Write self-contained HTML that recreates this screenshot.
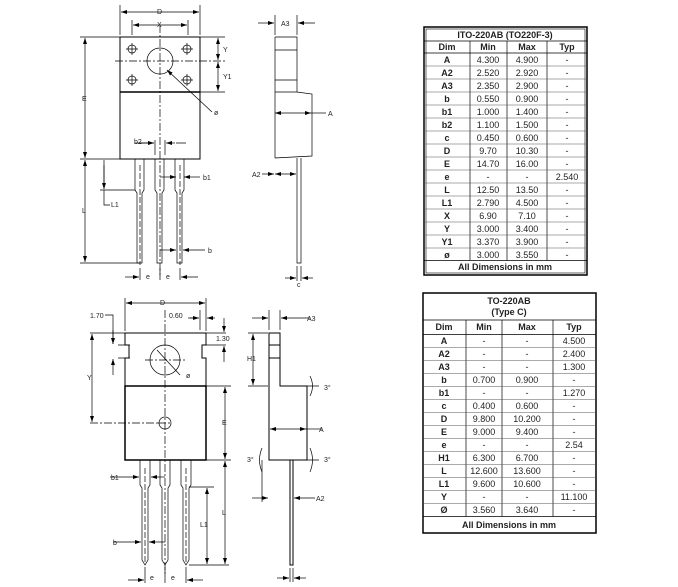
<!DOCTYPE html>
<html><head><meta charset="utf-8"><style>
html,body{margin:0;padding:0;background:#fff;width:678px;height:587px;overflow:hidden}
svg{position:absolute;left:0;top:0}
text{font-family:"Liberation Sans",sans-serif;font-size:7px;fill:#222}
.t text{font-size:9px}
.b{font-weight:bold}
</style></head><body>
<svg width="678" height="587" viewBox="0 0 678 587">
<defs><marker id="a" markerWidth="6" markerHeight="4" refX="6" refY="2" orient="auto-start-reverse" markerUnits="userSpaceOnUse"><path d="M0,0L6,2L0,4z" fill="#000"/></marker></defs>
<g stroke="#000" stroke-width="0.7" fill="none">
<rect x="120" y="37" width="80" height="122" stroke-width="1"/>
<line x1="120" y1="92" x2="200" y2="92" stroke-width="1.5"/>
<circle cx="160" cy="61" r="13"/>
<circle cx="132" cy="49" r="4"/><circle cx="187" cy="49" r="4"/><circle cx="132" cy="80" r="4"/><circle cx="187" cy="80" r="4"/>
<path d="M126 49h12M132 43v12M181 49h12M187 43v12M126 80h12M132 74v12M181 80h12M187 74v12"/>
<path d="M115 61h110M160 25v250" stroke-dasharray="8 2 2 2"/>
<path d="M135 159v31l2 3v70h5v-70l2-3v-31M155 159v31l2 3v70h5v-70l2-3v-31M175 159v31l2 3v70h5v-70l2-3v-31"/>
<path d="M140 165v100M180 165v100" stroke-dasharray="6 2"/>
<path d="M120 5v30M200 5v30M132 20v15M188 20v15M80 37h40M80 159h55M200 37h25M200 92h25M100 190h35M80 263h60"/>
<line x1="121" y1="12" x2="199" y2="12" marker-start="url(#a)" marker-end="url(#a)"/>
<line x1="133" y1="25" x2="187" y2="25" marker-start="url(#a)" marker-end="url(#a)"/>
<line x1="85" y1="38" x2="85" y2="158" marker-start="url(#a)" marker-end="url(#a)"/>
<line x1="85" y1="160" x2="85" y2="262" marker-start="url(#a)" marker-end="url(#a)"/>
<line x1="218" y1="38" x2="218" y2="60" marker-start="url(#a)" marker-end="url(#a)"/>
<line x1="218" y1="62" x2="218" y2="91" marker-start="url(#a)" marker-end="url(#a)"/>
<path d="M104 160v29M104 190v15h6"/><line x1="104" y1="165" x2="104" y2="189" marker-end="url(#a)"/>
<line x1="167" y1="70" x2="212" y2="112" marker-start="url(#a)"/>
<path d="M155 140v15M165 140v15M135 143h19M176 143h10"/><line x1="140" y1="143" x2="154" y2="143" marker-end="url(#a)"/><line x1="175" y1="143" x2="166" y2="143" marker-end="url(#a)"/>
<line x1="200" y1="177" x2="184" y2="177" marker-end="url(#a)"/><line x1="160" y1="177" x2="176" y2="177" marker-end="url(#a)"/>
<line x1="205" y1="250" x2="183" y2="250" marker-end="url(#a)"/><line x1="160" y1="250" x2="176" y2="250" marker-end="url(#a)"/>
<path d="M140 268v12M160 268v12M180 268v12"/>
<line x1="125" y1="277" x2="139" y2="277" marker-end="url(#a)"/><line x1="198" y1="277" x2="181" y2="277" marker-end="url(#a)"/>
<path d="M275 37h22v55M275 37v121M275 50h22M275 80h22M275 92h22l15 2v62l-37 2M297 158v105h4V158"/>
<path d="M275 15v20M297 15v20"/>
<line x1="258" y1="23" x2="274" y2="23" marker-end="url(#a)"/><line x1="315" y1="23" x2="298" y2="23" marker-end="url(#a)"/>
<line x1="275" y1="113" x2="311" y2="113" marker-start="url(#a)" marker-end="url(#a)"/><path d="M311 113h15"/>
<line x1="262" y1="174" x2="274" y2="174" marker-end="url(#a)"/><line x1="275" y1="174" x2="296" y2="174" marker-start="url(#a)" marker-end="url(#a)"/>
<path d="M297 266v15M301 266v15"/>
<line x1="285" y1="278" x2="296" y2="278" marker-end="url(#a)"/><line x1="313" y1="278" x2="302" y2="278" marker-end="url(#a)"/>
<path d="M125 333h81v12h-4v13h4v28H125v-28h4v-13h-4z" stroke-width="1"/>
<rect x="125" y="386" width="81" height="74" stroke-width="1.5"/>
<circle cx="165" cy="360" r="15"/><circle cx="165" cy="423" r="6"/>
<path d="M145 360h40M90 423h70M158 423h14M165 310v265" stroke-dasharray="8 2 2 2"/>
<line x1="157" y1="350" x2="180" y2="375"/>
<path d="M140 460v25l2 3v72l3 5 3-5v-72l2-3v-25M160 460v25l2 3v72l3 5 3-5v-72l2-3v-25M181 460v25l2 3v72l3 5 3-5v-72l2-3v-25"/>
<path d="M145 468v95M186 468v95" stroke-dasharray="6 2"/>
<path d="M125 298v33M206 298v33M200 310v20M90 333h35M206 333h20M206 345h20M206 386h25M206 460h25M189 487h25M189 565h40M118 345h12M118 358h12"/>
<line x1="126" y1="303" x2="205" y2="303" marker-start="url(#a)" marker-end="url(#a)"/>
<line x1="92" y1="334" x2="92" y2="422" marker-start="url(#a)" marker-end="url(#a)"/>
<line x1="225" y1="387" x2="225" y2="459" marker-start="url(#a)" marker-end="url(#a)"/>
<line x1="225" y1="461" x2="225" y2="564" marker-start="url(#a)" marker-end="url(#a)"/>
<line x1="207" y1="488" x2="207" y2="564" marker-start="url(#a)" marker-end="url(#a)"/>
<path d="M105 315h8v29"/><line x1="113" y1="330" x2="113" y2="344" marker-end="url(#a)"/><line x1="113" y1="375" x2="113" y2="359" marker-end="url(#a)"/>
<path d="M188 318h10"/><line x1="190" y1="318" x2="199" y2="318" marker-end="url(#a)"/><line x1="215" y1="318" x2="207" y2="318" marker-end="url(#a)"/>
<line x1="224" y1="318" x2="224" y2="332" marker-end="url(#a)"/><line x1="224" y1="362" x2="224" y2="346" marker-end="url(#a)"/>
<line x1="110" y1="477" x2="139" y2="477" marker-end="url(#a)"/><line x1="165" y1="477" x2="151" y2="477" marker-end="url(#a)"/>
<line x1="113" y1="542" x2="141" y2="542" marker-end="url(#a)"/><line x1="165" y1="542" x2="149" y2="542" marker-end="url(#a)"/>
<path d="M145 567v16M165 567v16M186 567v16"/>
<line x1="128" y1="580" x2="144" y2="580" marker-end="url(#a)"/><line x1="203" y1="580" x2="187" y2="580" marker-end="url(#a)"/>
<path d="M269 333h11v53h27v74h-38zM269 345h11M269 358h11M290 460v105h3V460" stroke-width="1"/>
<path d="M269 310v20M280 310v20M248 333h20M248 386h20M262 460v42M307 386h12M307 460h12"/>
<line x1="252" y1="318" x2="268" y2="318" marker-end="url(#a)"/><line x1="310" y1="318" x2="281" y2="318" marker-end="url(#a)"/>
<line x1="253" y1="334" x2="253" y2="385" marker-start="url(#a)" marker-end="url(#a)"/>
<line x1="270" y1="429" x2="306" y2="429" marker-start="url(#a)" marker-end="url(#a)"/><path d="M306 429h16"/>
<line x1="252" y1="498" x2="268" y2="498" marker-end="url(#a)"/><line x1="315" y1="498" x2="294" y2="498" marker-end="url(#a)"/>
<path d="M310 376q5 10 0 20M262 448q-5 12 0 24M310 448q5 12 0 24"/>
<path d="M290 568v14M293 568v14"/>
<line x1="277" y1="578" x2="289" y2="578" marker-end="url(#a)"/><line x1="306" y1="578" x2="294" y2="578" marker-end="url(#a)"/>
</g>
<text x="157" y="14">D</text><text x="157" y="27">X</text><text x="82" y="101">E</text><text x="82" y="213">L</text>
<text x="223" y="52">Y</text><text x="223" y="79">Y1</text><text x="214" y="115">ø</text><text x="134" y="144">b2</text>
<text x="203" y="180">b1</text><text x="208" y="253">b</text><text x="111" y="207">L1</text><text x="146" y="279">e</text><text x="166" y="279">e</text>
<text x="281" y="26">A3</text><text x="328" y="116">A</text><text x="252" y="177">A2</text><text x="297" y="287">c</text>
<text x="90" y="318">1.70</text><text x="169" y="318">0.60</text><text x="216" y="341">1.30</text><text x="160" y="305">D</text>
<text x="87" y="380">Y</text><text x="222" y="425">E</text><text x="222" y="515">L</text><text x="200" y="527">L1</text>
<text x="186" y="378">ø</text><text x="111" y="480">b1</text><text x="113" y="545">b</text><text x="150" y="580">e</text><text x="171" y="580">e</text>
<text x="307" y="321">A3</text><text x="247" y="361">H1</text><text x="324" y="390">3°</text><text x="319" y="432">A</text>
<text x="247" y="462">3°</text><text x="324" y="462">3°</text><text x="316" y="501">A2</text>
<g class="t" stroke="#000" fill="none">
<rect x="424" y="27" width="163" height="248" stroke-width="1.5"/>
<rect x="426" y="29" width="159" height="244" stroke-width="0.6"/>
<path d="M424 41h163M424 53h163M424 260.5h163" stroke-width="0.7"/>
<path d="M470 41v219.5M507 41v219.5M547 41v219.5" stroke-width="0.7"/>
<rect x="423" y="293" width="173" height="240" stroke-width="1.5"/>
<path d="M423 320h173M423 334.5h173M423 516.5h173M466 320v196.5M502 320v196.5M553 320v196.5" stroke-width="0.7"/>
</g>
<g class="t" stroke="#555" stroke-width="0.5">
<path d="M424 66h163M424 79h163M424 92h163M424 105h163M424 118h163M424 131h163M424 144h163M424 157h163M424 170h163M424 183h163M424 196h163M424 209h163M424 222h163M424 235h163M424 248h163"/>
<path d="M423 347.5h173M423 360.5h173M423 373.5h173M423 386.5h173M423 399.5h173M423 412.5h173M423 425.5h173M423 438.5h173M423 451.5h173M423 464.5h173M423 477.5h173M423 490.5h173M423 503.5h173"/>
</g>
<g class="t" text-anchor="middle">
<text x="505" y="38" class="b">ITO-220AB (TO220F-3)</text>
<text x="447" y="50" class="b">Dim</text><text x="488" y="50" class="b">Min</text><text x="527" y="50" class="b">Max</text><text x="567" y="50" class="b">Typ</text>
<text x="505" y="270" class="b">All Dimensions in mm</text>
<text x="509" y="304" class="b">TO-220AB</text><text x="509" y="315" class="b">(Type C)</text>
<text x="444" y="330" class="b">Dim</text><text x="484" y="330" class="b">Min</text><text x="527" y="330" class="b">Max</text><text x="574" y="330" class="b">Typ</text>
<text x="509" y="528" class="b">All Dimensions in mm</text>
</g>
<g class="t" text-anchor="middle">
<text x="447" y="63" class="b">A</text><text x="488" y="63">4.300</text><text x="527" y="63">4.900</text><text x="567" y="63">-</text>
<text x="447" y="76" class="b">A2</text><text x="488" y="76">2.520</text><text x="527" y="76">2.920</text><text x="567" y="76">-</text>
<text x="447" y="89" class="b">A3</text><text x="488" y="89">2.350</text><text x="527" y="89">2.900</text><text x="567" y="89">-</text>
<text x="447" y="102" class="b">b</text><text x="488" y="102">0.550</text><text x="527" y="102">0.900</text><text x="567" y="102">-</text>
<text x="447" y="115" class="b">b1</text><text x="488" y="115">1.000</text><text x="527" y="115">1.400</text><text x="567" y="115">-</text>
<text x="447" y="128" class="b">b2</text><text x="488" y="128">1.100</text><text x="527" y="128">1.500</text><text x="567" y="128">-</text>
<text x="447" y="141" class="b">c</text><text x="488" y="141">0.450</text><text x="527" y="141">0.600</text><text x="567" y="141">-</text>
<text x="447" y="154" class="b">D</text><text x="488" y="154">9.70</text><text x="527" y="154">10.30</text><text x="567" y="154">-</text>
<text x="447" y="167" class="b">E</text><text x="488" y="167">14.70</text><text x="527" y="167">16.00</text><text x="567" y="167">-</text>
<text x="447" y="180" class="b">e</text><text x="488" y="180">-</text><text x="527" y="180">-</text><text x="567" y="180">2.540</text>
<text x="447" y="193" class="b">L</text><text x="488" y="193">12.50</text><text x="527" y="193">13.50</text><text x="567" y="193">-</text>
<text x="447" y="206" class="b">L1</text><text x="488" y="206">2.790</text><text x="527" y="206">4.500</text><text x="567" y="206">-</text>
<text x="447" y="219" class="b">X</text><text x="488" y="219">6.90</text><text x="527" y="219">7.10</text><text x="567" y="219">-</text>
<text x="447" y="232" class="b">Y</text><text x="488" y="232">3.000</text><text x="527" y="232">3.400</text><text x="567" y="232">-</text>
<text x="447" y="245" class="b">Y1</text><text x="488" y="245">3.370</text><text x="527" y="245">3.900</text><text x="567" y="245">-</text>
<text x="447" y="258" class="b">ø</text><text x="488" y="258">3.000</text><text x="527" y="258">3.550</text><text x="567" y="258">-</text>
</g>
<g class="t" text-anchor="middle">
<text x="444" y="344" class="b">A</text><text x="484" y="344">-</text><text x="527" y="344">-</text><text x="574" y="344">4.500</text>
<text x="444" y="357" class="b">A2</text><text x="484" y="357">-</text><text x="527" y="357">-</text><text x="574" y="357">2.400</text>
<text x="444" y="370" class="b">A3</text><text x="484" y="370">-</text><text x="527" y="370">-</text><text x="574" y="370">1.300</text>
<text x="444" y="383" class="b">b</text><text x="484" y="383">0.700</text><text x="527" y="383">0.900</text><text x="574" y="383">-</text>
<text x="444" y="396" class="b">b1</text><text x="484" y="396">-</text><text x="527" y="396">-</text><text x="574" y="396">1.270</text>
<text x="444" y="409" class="b">c</text><text x="484" y="409">0.400</text><text x="527" y="409">0.600</text><text x="574" y="409">-</text>
<text x="444" y="422" class="b">D</text><text x="484" y="422">9.800</text><text x="527" y="422">10.200</text><text x="574" y="422">-</text>
<text x="444" y="435" class="b">E</text><text x="484" y="435">9.000</text><text x="527" y="435">9.400</text><text x="574" y="435">-</text>
<text x="444" y="448" class="b">e</text><text x="484" y="448">-</text><text x="527" y="448">-</text><text x="574" y="448">2.54</text>
<text x="444" y="461" class="b">H1</text><text x="484" y="461">6.300</text><text x="527" y="461">6.700</text><text x="574" y="461">-</text>
<text x="444" y="474" class="b">L</text><text x="484" y="474">12.600</text><text x="527" y="474">13.600</text><text x="574" y="474">-</text>
<text x="444" y="487" class="b">L1</text><text x="484" y="487">9.600</text><text x="527" y="487">10.600</text><text x="574" y="487">-</text>
<text x="444" y="500" class="b">Y</text><text x="484" y="500">-</text><text x="527" y="500">-</text><text x="574" y="500">11.100</text>
<text x="444" y="513" class="b">Ø</text><text x="484" y="513">3.560</text><text x="527" y="513">3.640</text><text x="574" y="513">-</text>
</g>
</svg>
</body></html>
